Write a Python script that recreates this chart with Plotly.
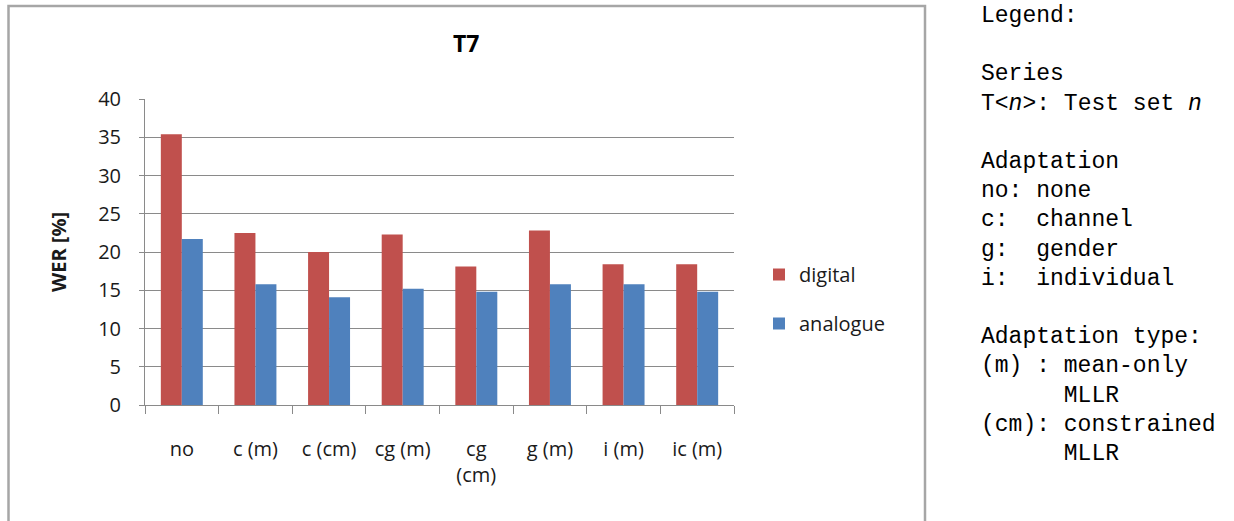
import plotly.graph_objects as go

# Word error rates for test set T7
categories = ["no", "c (m)", "c (cm)", "cg (m)", "cg<br>(cm)", "g (m)", "i (m)", "ic (m)"]
digital = [35.4, 22.5, 20.0, 22.3, 18.1, 22.8, 18.4, 18.4]
analogue = [21.7, 15.8, 14.1, 15.2, 14.8, 15.8, 15.8, 14.8]

legend_lines = [
    "Legend:", "", "Series", "T&lt;<i>n</i>&gt;: Test set <i>n</i>", "",
    "Adaptation", "no: none", "c:  channel", "g:  gender", "i:  individual", "",
    "Adaptation type:", "(m) : mean-only", "      MLLR", "(cm): constrained", "      MLLR",
]

W, H = 1234, 521
L, R, T, B = 145, 500, 99, 116
pw, ph = W - L - R, H - T - B


def px(x):
    return (x - L) / pw


def py(y):
    return (H - B - y) / ph


GRID = "#8a8a8a"
FONT = "Open Sans"
TXT = "#1a1a1a"

fig = go.Figure()
fig.add_trace(go.Bar(x=categories, y=digital, name="digital",
                     marker=dict(color="#C0504D", line=dict(width=0)), legendgroup="d"))
fig.add_trace(go.Bar(x=categories, y=analogue, name="analogue",
                     marker=dict(color="#4F81BD", line=dict(width=0)), legendgroup="a"))

fig.update_layout(
    width=W, height=H,
    margin=dict(l=L, r=R, t=T, b=B, pad=0),
    paper_bgcolor="white", plot_bgcolor="white",
    barmode="group", bargap=0.43, bargroupgap=0,
    font=dict(family=FONT, size=20, color=TXT),
    showlegend=True,
    legend=dict(x=px(759), y=py(255), xanchor="left", yanchor="top",
                traceorder="grouped", tracegroupgap=20,
                font=dict(family=FONT, size=20, color=TXT),
                bgcolor="rgba(0,0,0,0)", itemwidth=30),
    xaxis=dict(showline=True, linecolor=GRID, linewidth=1,
               ticks="outside", ticklen=8, tickcolor=GRID, tickson="boundaries",
               ticklabelstandoff=26, showgrid=False,
               tickfont=dict(family=FONT, size=20, color=TXT)),
    yaxis=dict(range=[0, 40], dtick=5, showline=True, linecolor=GRID, linewidth=1,
               ticks="outside", ticklen=5, tickcolor=GRID,
               showgrid=True, gridcolor=GRID, gridwidth=1, zeroline=False,
               ticklabelstandoff=14,
               tickfont=dict(family=FONT, size=20, color=TXT),
               title=dict(text="<b>WER [%]</b>", standoff=26,
                          font=dict(family=FONT, size=20, color=TXT))),
)

# chart frame
fig.add_shape(type="rect", xref="paper", yref="paper",
              x0=px(8.5), x1=px(925), y0=py(545), y1=py(6),
              line=dict(color="#a6a6a6", width=2.5), fillcolor="rgba(0,0,0,0)", layer="below")

# chart title
fig.add_annotation(text="<b>T7</b>", xref="paper", yref="paper",
                   x=px(466), y=py(43), xanchor="center", yanchor="middle",
                   showarrow=False, font=dict(family=FONT, size=23, color="black"))

# side notes
for i, line in enumerate(legend_lines):
    if not line:
        continue
    fig.add_annotation(text=line.replace(" ", "\u00a0"), xref="paper", yref="paper",
                       x=px(979), y=py(16 + 29.2 * i), xanchor="left", yanchor="middle",
                       showarrow=False,
                       font=dict(family="Liberation Mono", size=23, color="black"))

fig.write_html("out.html")
